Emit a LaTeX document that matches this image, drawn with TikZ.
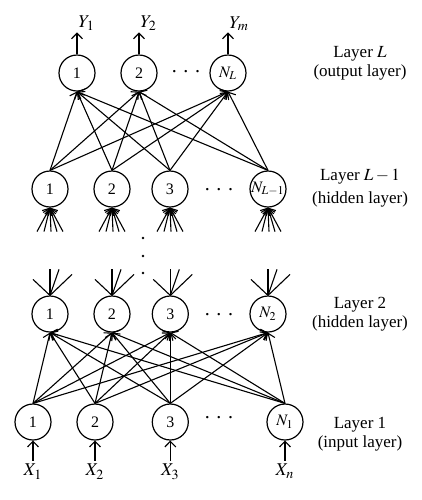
\documentclass[tikz,border=0pt]{standalone}
\usepackage{mathptmx}
\usepackage{fontspec}
\setmainfont{Liberation Serif}
\usetikzlibrary{arrows.meta}

\begin{document}
\begin{tikzpicture}[x=0.5pt, y=-0.5pt,
    >={Straight Barb[length=2.8pt,width=5.5pt]},
    neuron/.style={draw, circle, line width=0.6pt, minimum size=18pt, inner sep=0pt, font=\fontsize{8}{9}\selectfont},
    synapse/.style={line width=0.55pt},
    layertext/.style={align=center, inner sep=0pt, font=\fontsize{8.5}{9.5}\selectfont},
    signal/.style={inner sep=1.5pt, font=\fontsize{9}{10}\selectfont}]
          \useasboundingbox (0,0) rectangle (422,500);

          % layer L (output)
          \node[neuron] (out1) at (77,73) {1};
          \node[neuron] (out2) at (139,73) {2};
          \node[neuron] (outN) at (228,73) {$N_L$};
          \node (outdots) at (186,72) {. . .};

          % layer L-1 (hidden)
          \node[neuron] (hid1) at (50,189) {1};
          \node[neuron] (hid2) at (112,189) {2};
          \node[neuron] (hid3) at (170,189) {3};
          \node[neuron] (hidN) at (268,189) {$N_{L-1}$};
          \node (hiddots) at (219,190) {. . .};

          % layer 2 (hidden)
          \node[neuron] (sec1) at (50,314) {1};
          \node[neuron] (sec2) at (112,314) {2};
          \node[neuron] (sec3) at (170.3,314) {3};
          \node[neuron] (secN) at (268,314) {$N_2$};
          \node (secdots) at (219,315) {. . .};

          % layer 1 (input)
          \node[neuron] (in1) at (33,422) {1};
          \node[neuron] (in2) at (95,422) {2};
          \node[neuron] (in3) at (170.3,422) {3};
          \node[neuron] (inN) at (285,422) {$N_1$};
          \node (indots) at (219,418) {. . .};

          % outputs and inputs
          \draw[synapse, ->] (out1.north) -- ++(0,-22) node[signal, anchor=south west, inner sep=0.5pt] (y1) {$Y_1$};
          \draw[synapse, ->] (out2.north) -- ++(0,-22) node[signal, anchor=south west, inner sep=0.5pt] (y2) {$Y_2$};
          \draw[synapse, ->] (outN.north) -- ++(0,-22) node[signal, anchor=south west, inner sep=0.5pt] (ym) {$Y_m$};
          \draw[synapse, <-] (in1.south) -- ++(0,20) node[signal, below] (x1) {$X_1$};
          \draw[synapse, <-] (in2.south) -- ++(0,20) node[signal, below] (x2) {$X_2$};
          \draw[synapse, <-] (in3.south) -- ++(0,20) node[signal, below] (x3) {$X_3$};
          \draw[synapse, <-] (inN.south) -- ++(0,20) node[signal, below] (xn) {$X_n$};

          % full connections between neighbouring layers
          \foreach \a in {hid1,hid2,hid3,hidN}
            \foreach \b in {out1,out2,outN}
              \draw[synapse, ->] (\a.north) -- (\b.south);
          \foreach \a in {in1,in2,in3,inN}
            \foreach \b in {sec1,sec2,sec3,secN}
              \draw[synapse, ->] (\a.north) -- (\b.south);

          % links to and from the layers left out
          \foreach \n in {hid1,hid2,hid3,hidN}
            \foreach \dx in {-13,-6,1,7,13}
              \draw[synapse, <-] (\n.south) -- ++(\dx,24);
          \foreach \n in {sec1,sec2,sec3,secN}
            \foreach \dx/\dy in {-17/-16,0/-26,9/-26,22/-21}
              \draw[synapse] (\n.north) -- ++(\dx,\dy);
          \foreach \y in {238,256,273}
            \fill (143,\y) circle (0.7pt);

          % layer names
          \node[layertext] (nameL) at (360,63) {Layer $L$\\(output layer)};
          \node[layertext] (nameLm) at (360,188) {Layer $L-1$\\[2pt](hidden layer)};
          \node[layertext] (name2) at (360,314) {Layer 2\\(hidden layer)};
          \node[layertext] (name1) at (360,434) {Layer 1\\(input layer)};

        \end{tikzpicture}
\end{document}
